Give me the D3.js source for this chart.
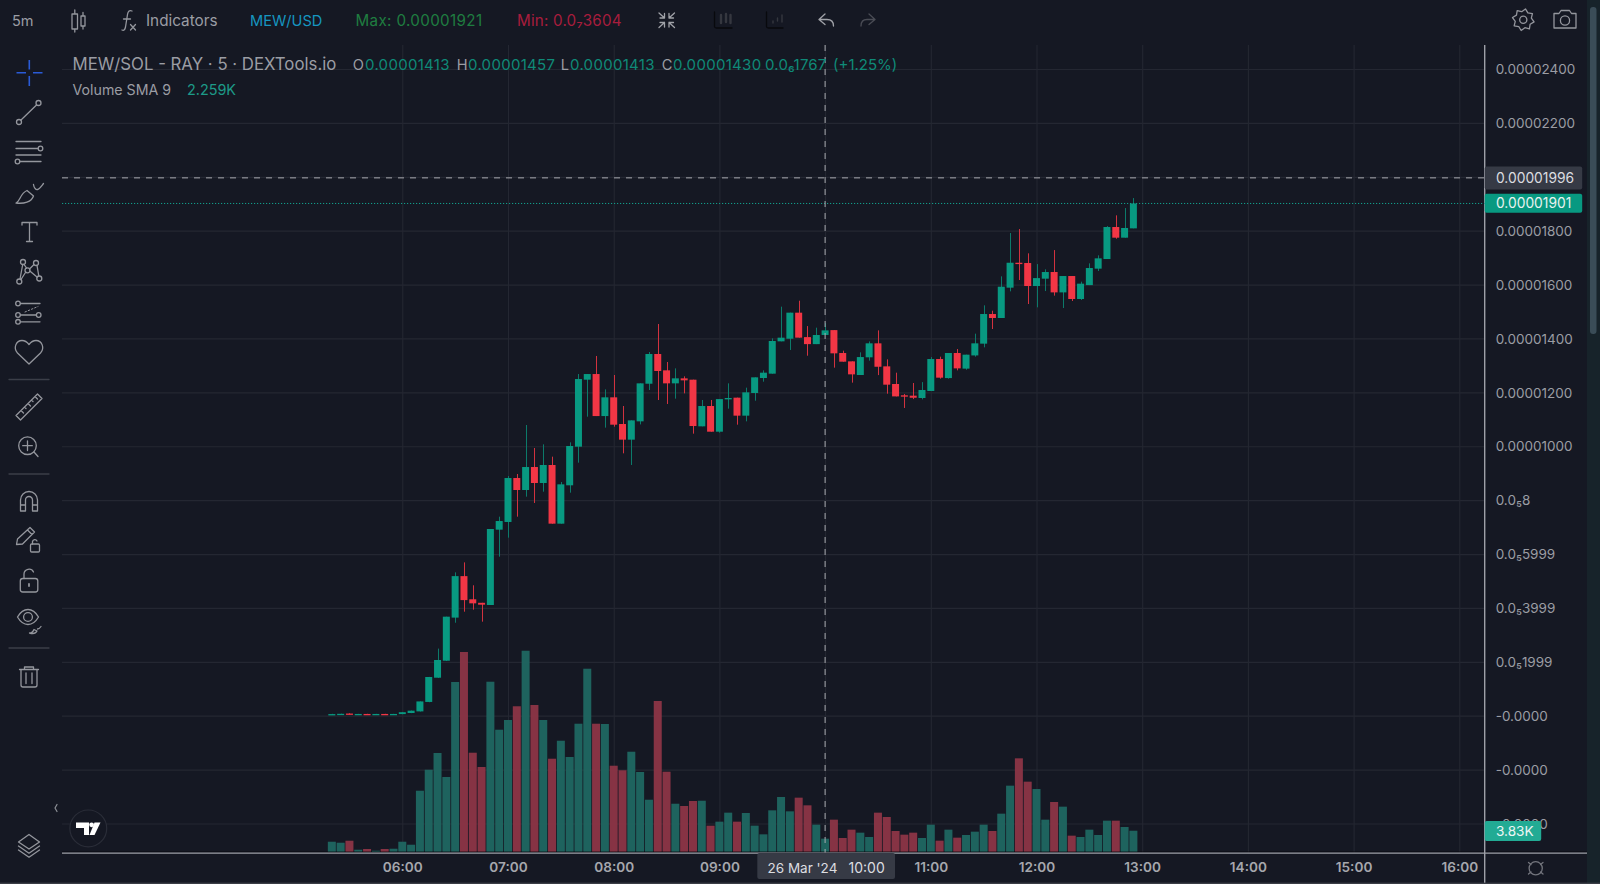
<!DOCTYPE html>
<html><head><meta charset="utf-8">
<style>
html,body{margin:0;padding:0;background:#151823;overflow:hidden}
svg{display:block}
text{font-family:Inter,"Noto Sans",sans-serif}
</style>
<script src="https://cdn.jsdelivr.net/npm/d3@7"></script>
</head><body>
<svg id="c" width="1600" height="884"></svg>
<script>
// prices in units of 1e-8, one entry per 5-minute bar from 05:20
const opens=[4,5,8,5,6.5,5,6.5,5,6,10,16,51,141,204,364,518,432,419,410.8,690.4,718.9,882.1,837.6,922.9,863.6,930.4,712.7,855,998.4,1247,1268,1112,1181.5,1082.5,1024.4,1092.4,1232,1342.3,1281.7,1233.4,1252,1247,1073.9,1149.3,1054,1174,1180.3,1113.5,1197.6,1253.2,1269.3,1389.3,1399,1495.7,1405,1379,1413,1431,1346,1315,1264.4,1330,1381.9,1296.5,1231,1189,1187.7,1179,1205,1323.7,1253,1346,1288,1337,1380.7,1490.7,1475.9,1588.5,1681,1680,1594.6,1621.9,1646.6,1571,1631.7,1546.4,1598,1659,1694.8,1813.6,1774,1808.6];
const highs=[7,7.5,9,6.8,7,6.8,7,6.8,13,19,53,144,249,367.5,532,569,484,419,692.9,738.6,889.6,897,1078.8,993.5,1007,961.3,867.3,1014.5,1268,1268,1335,1211,1264.4,1149.3,1096,1233.4,1349.7,1453.6,1312.6,1289,1259.4,1247,1171.6,1171.6,1175,1233.4,1180.3,1217.4,1255.7,1281.7,1400.4,1518,1495.7,1540,1446,1440,1457,1431,1354.6,1315,1348.5,1389,1430,1322.5,1273,1194,1234.7,1238,1331,1332.4,1346,1360.8,1339.8,1417.8,1522.9,1503,1630.5,1791.3,1806,1715.9,1676,1656.5,1728,1631.7,1631.7,1610.7,1678.8,1708.5,1817,1856.9,1884,1921];
const lows=[3.6,4.5,4.5,4.5,4.2,4.6,4.2,4.6,5.5,9.5,15.5,50,140,203,345,386,393.5,349,410.8,590.2,660.7,738.6,812.9,789.4,831.4,712.7,712.7,827.7,939,1109.7,1112,1069,1072.6,973.7,930.4,1081,1208.7,1171.6,1156.8,1176.5,1196.3,1046.7,1073.9,1054,1050.4,1139.4,1080,1092.4,1169,1239.6,1269.3,1389.3,1357.2,1403,1336,1379,1413,1291.6,1313.8,1236,1264.4,1317.6,1264,1195,1185,1142,1175,1174,1205,1250.8,1250.8,1281.7,1284,1332.4,1367,1435,1475.9,1574.8,1616.9,1527.8,1515.5,1576,1558.8,1513,1539,1542.7,1598,1650.3,1694.8,1770,1774,1808.6];
const closes=[6,7,5,6.5,4.5,6.5,4.5,6.5,13,18.7,53,143.6,206.7,367.5,518,429,417,412,692.9,722.5,882.1,837.6,922.9,863.6,930.4,712.7,858.6,1000.9,1249.5,1268,1112,1181.5,1080,1024.4,1096,1233.4,1342.3,1279.2,1233.4,1252,1244.6,1075,1149.3,1054,1175,1179,1113.5,1200,1255.7,1273,1390.6,1402.9,1495.7,1403,1379,1412.8,1430,1344.8,1313.8,1266.8,1331,1381.9,1295,1228.5,1185,1184,1180,1208.7,1323.7,1254.5,1346,1289,1339.8,1381.9,1490.7,1475.9,1592,1681,1676,1594.6,1624,1646.6,1571,1631.7,1546.4,1603.3,1661.4,1697.3,1813.6,1774,1810,1901];
// volume, thousands
const volumes=[1.85,1.67,2.03,0.41,0.54,0.23,0.54,0.59,1.85,1.31,11.03,14.81,17.82,13.5,30.6,36.0,17.87,15.3,30.65,22.01,23.76,26.23,36.23,26.46,23.76,16.79,20.03,17.1,23.09,32.99,23.09,23.04,15.53,14.71,18.05,14.4,9.41,27.18,14.45,8.69,8.28,9.18,9.23,4.73,5.46,7.08,5.46,7.02,4.74,3.18,7.5,9.9,7.32,9.78,8.4,4.92,2.4,5.82,2.52,4.02,3.48,2.7,7.08,6.3,3.78,3.12,3.48,2.52,4.92,2.04,4.02,2.58,3.06,3.66,4.92,3.78,6.9,11.94,16.86,12.66,11.34,5.82,9.0,8.16,2.94,2.7,4.02,3.06,5.64,5.64,4.5,3.83];
const firstBarMinute=320, barMinutes=5;
const hourTicks=[360,420,480,540,600,660,720,780,840,900,960];
const hourLabels=["06:00","07:00","08:00","09:00","","11:00","12:00","13:00","14:00","15:00","16:00"];
const priceTicks=[2400,2200,2000,1800,1600,1400,1200,1000,800,600,400,200,0,-200,-400];
const priceLabels=["0.00002400","0.00002200","","0.00001800","0.00001600","0.00001400","0.00001200","0.00001000","0.0₅8","0.0₅5999","0.0₅3999","0.0₅1999","-0.0000","-0.0000","-0.0000"];
const crossPrice=1996, lastPrice=1901, crossMinute=600;
const lastVolumeLabel="3.83K", crossPriceLabel="0.00001996", lastPriceLabel="0.00001901";

const BG="#151823",GRID="#242732",UP="#089981",DN="#f23645",TXT="#9b9da4",ICON="#94969d";
const L=62,R=1484.7,T=45,AX=852.5;
const x=d3.scaleLinear().domain([360,960]).range([402.3,1459.3]);
const y=d3.scaleLinear().domain([0,2400]).range([715.7,69]);
const v=d3.scaleLinear().domain([0,36.18]).range([852,651]);
const svg=d3.select("#c");
svg.append("rect").attr("width",1600).attr("height",884).attr("fill",BG);

// price grid and axis
const yAxis=svg.append("g").attr("transform",`translate(${R},0)`).call(
  d3.axisRight(y).tickValues(priceTicks).tickSize(0).tickPadding(11)
    .tickFormat((d,i)=>priceLabels[i]));
yAxis.select(".domain").remove();
yAxis.selectAll("text").attr("fill",TXT).attr("font-size",13.5).attr("dy","0.35em").style("font-family","Inter");
const yGrid=svg.append("g").attr("transform",`translate(${R},0)`).call(
  d3.axisLeft(y).tickValues(priceTicks).tickSize(R-L).tickFormat(""));
yGrid.select(".domain").remove();
yGrid.selectAll("line").attr("stroke",GRID).attr("stroke-width",1.2);

// time grid and axis
const xGrid=svg.append("g").attr("transform",`translate(0,${AX})`).call(
  d3.axisTop(x).tickValues(hourTicks).tickSize(AX-T).tickFormat(""));
xGrid.select(".domain").remove();
xGrid.selectAll("line").attr("stroke",GRID).attr("stroke-width",1.1);
const xAxis=svg.append("g").attr("transform",`translate(0,${AX})`).call(
  d3.axisBottom(x).tickValues(hourTicks).tickSize(0).tickPadding(10)
    .tickFormat((d,i)=>hourLabels[i]));
xAxis.select(".domain").remove();
xAxis.selectAll("text").attr("fill","#a5a7ad").attr("font-size",13.6).attr("font-weight",600).attr("dy","0.71em").style("font-family","Inter");

const bars=opens.map((o,i)=>({m:firstBarMinute+i*barMinutes,o,h:highs[i],l:lows[i],c:closes[i],vol:volumes[i],up:closes[i]>=o}));

// volume
svg.append("g").selectAll("rect").data(bars).join("rect")
  .attr("x",d=>x(d.m)-4).attr("width",8)
  .attr("y",d=>v(d.vol)).attr("height",d=>v(0)-v(d.vol))
  .attr("fill",d=>d.up?"#1f6661":"#8b3446").attr("fill-opacity",0.96);

// candles
svg.append("g").selectAll("line").data(bars).join("line")
  .attr("x1",d=>Math.round(x(d.m))+.5).attr("x2",d=>Math.round(x(d.m))+.5)
  .attr("y1",d=>y(d.h)).attr("y2",d=>y(d.l))
  .attr("stroke",d=>d.up?"#0c7a6a":"#d2323f").attr("stroke-width",1);
svg.append("g").selectAll("rect").data(bars).join("rect")
  .attr("x",d=>x(d.m)-3.5).attr("width",7)
  .attr("y",d=>y(Math.max(d.o,d.c))).attr("height",d=>Math.max(1.3,Math.abs(y(d.o)-y(d.c))))
  .attr("fill",d=>d.up?UP:DN);

// bottom rule and pane edges
svg.append("rect").attr("x",L).attr("y",851.6).attr("width",1587-L).attr("height",.7).attr("fill","#05060a");
svg.append("line").attr("x1",L).attr("x2",1587).attr("y1",AX+.6).attr("y2",AX+.6).attr("stroke","#9ea0a8").attr("stroke-width",1.4);
svg.append("line").attr("x1",R).attr("x2",R).attr("y1",T).attr("y2",884).attr("stroke","#9ea0a8").attr("stroke-width",1.4);

// last price + crosshair
svg.append("line").attr("x1",L).attr("x2",R).attr("y1",y(lastPrice)).attr("y2",y(lastPrice))
  .attr("stroke","#13a08e").attr("stroke-width",1).attr("stroke-dasharray","1.2 1.8");
svg.append("line").attr("x1",L).attr("x2",R).attr("y1",y(crossPrice)).attr("y2",y(crossPrice))
  .attr("stroke","#a8aab0").attr("stroke-width",1).attr("stroke-dasharray","6 6");
svg.append("line").attr("x1",x(crossMinute)).attr("x2",x(crossMinute)).attr("y1",T).attr("y2",AX)
  .attr("stroke","#a8aab0").attr("stroke-width",1).attr("stroke-dasharray","6 6");

function box(x0,y0,w,h,fill){svg.append("rect").attr("x",x0).attr("y",y0).attr("width",w).attr("height",h).attr("rx",2).attr("fill",fill);}
function label(t,px,py,fill,size,spacing){const e=svg.append("text").attr("x",px).attr("y",py).attr("fill",fill).attr("font-size",size).text(t);if(spacing)e.attr("letter-spacing",spacing);return e;}
box(R,166.5,97.5,23,"#363a45"); label(crossPriceLabel,1496,182.6,"#dcdde0",13.8);
box(R,193.7,97.5,19,UP); label(lastPriceLabel,1496,208,"#e8f2f0",13.8);
box(R,821,56.5,20,"#22ab94"); label(lastVolumeLabel,1496,836,"#eef6f5",13.6);
box(757.3,853,137.7,26,"#363a45");
label("26 Mar '24",767.5,873,"#dcdde0",13.5);
label("10:00",848.5,873,"#dcdde0",14);

// header text
label("5m",12,25.5,TXT,14.5);
label("Indicators",146,25.5,TXT,15.3);
label("MEW/USD",250,25.5,"#1696c0",14.6);
label("Max: 0.00001921",355.5,25.5,"#1f7d40",15.2,0.35);
label("Min: 0.0₇3604",517,25.5,"#a81d3d",15.2,0.2);
label("MEW/SOL - RAY · 5 · DEXTools.io",72.5,70,"#9b9da4",16.8);
const LEG="#0f8a78";
[["O",352.7,"0.00001413",365],["H",456.7,"0.00001457",468],["L",560.7,"0.00001413",570],["C",661.7,"0.00001430",673]]
 .forEach(r=>{label(r[0],r[1],69.5,TXT,14.6);label(r[2],r[3],69.5,LEG,15,0.3);});
label("0.0₆1767",765,69.5,LEG,15,0.2);
label("(+1.25%)",833,69.5,LEG,15);
label("Volume SMA 9",72.5,95,TXT,14.2);
label("2.259K",187,95,"#1d9a88",14.4);

// scrollbar strip
svg.append("rect").attr("x",1587).attr("y",0).attr("width",13).attr("height",884).attr("fill","#17232a");
svg.append("rect").attr("x",1590).attr("y",7).attr("width",6.5).attr("height",327).attr("rx",3).attr("fill","#3a4c57");
svg.append("rect").attr("x",0).attr("y",882.6).attr("width",1600).attr("height",1.4).attr("fill","#3a3d45");

// toolbar icons
const ic=svg.append("g").attr("fill","none").attr("stroke",ICON).attr("stroke-width",1.3).attr("stroke-linecap","round").attr("stroke-linejoin","round");
const p=(d,o={})=>{const e=ic.append("path").attr("d",d);for(const k in o)e.attr(k,o[k]);return e;};
const circ=(cx,cy,r)=>ic.append("circle").attr("cx",cx).attr("cy",cy).attr("r",r);
// crosshair
p("M16.5 72.7H26M33 72.7H42.5M29.3 60V69.5M29.3 76V86",{stroke:"#2a5bd7","stroke-width":1.6,"stroke-linecap":"butt"});
// trend line
circ(19,122,2.5);circ(38.5,103,2.5);p("M21 120L36.5 105");
// fib
p("M16 141.5H41M16 148.5H38M16 155H41M20 161.5H41");circ(40.5,148.5,2.3);circ(17.5,161.5,2.3);
// brush
p("M16 203C20.5 201 20 193.5 27 190.5L33.5 196C31.5 202 24 204 16 203ZM33.5 184.5C34 188 36 190 37.5 189.5C39.5 189 41.5 186 43.5 183.5");
// text tool
p("M22 225V222.5H37V225M29.5 222.5V241.5M26.5 241.5H32.5");
// pattern
circ(19.3,281.5,2.5);circ(23,262,2.5);circ(27.5,270.3,2.5);circ(36,263,2.5);circ(39.3,278.5,2.5);
p("M20 279L22.7 264.5M24 264.3L26.5 268M29.5 269L34 264.5M37 265.3L38.8 276M21 279.5L25.8 272M29.8 271L37 277");
// forecast
circ(18,303.5,2.3);circ(18,315,2.3);circ(18,321.8,2.3);circ(38.7,315,2.3);
p("M20.5 303.5H40M20.5 315H36.3M20.5 321.8H40");p("M25 312L38 306.5",{"stroke-dasharray":"1.5 2","stroke-width":1});
// heart
p("M29 364L17.5 353C13 348 16 340.5 22 340.5C25.5 340.5 27.5 342.5 29 344.5C30.5 342.5 32.5 340.5 36 340.5C42 340.5 45 348 40.5 353Z");
// separators
[379.5,474,648].forEach(sy=>ic.append("line").attr("x1",9).attr("x2",49).attr("y1",sy).attr("y2",sy).attr("stroke","#3b3e48"));
// ruler
p("M16 415.5L37.5 394L42 398.5L20.5 420ZM21 410.5L23.5 413M24.5 407L26 408.5M28 403.5L30.5 406M31.5 400L33 401.5M35 396.5L37.5 399");
// zoom
circ(27.5,445.7,8.8);p("M27.5 441V450.5M22.7 445.7H32.3M34 452L38 456.5");
// magnet
p("M20.5 511V500A8.5 8.5 0 0 1 37.5 500V511H32.5V500A3.5 3.5 0 0 0 25.5 500V511ZM20.5 505H25.5M32.5 505H37.5");
// pencil + small lock
p("M16.5 544.5L17.5 539L30 527.5L34.5 532L22.5 544L16.5 544.5ZM27.5 530L32 534.5");
ic.append("rect").attr("x",30.5).attr("y",544).attr("width",9).attr("height",8).attr("rx",1.2);
p("M32.5 544V541.5A2.4 2.4 0 0 1 37 541");
// unlocked lock
ic.append("rect").attr("x",20.3).attr("y",578.5).attr("width",17.5).attr("height",13.5).attr("rx",2.5);
p("M24 578.5V574A5 5 0 0 1 33.5 572");p("M29 584V586",{"stroke-width":1.8});
// eye + mini brush
p("M17.5 617C21 611 25 609.5 28 609.5C31 609.5 35 611 38.5 617C35 623 31 624.5 28 624.5C25 624.5 21 623 17.5 617Z");circ(28,617,4.4);
p("M29.5 633C31.5 633 33 632 34 629.5L37 631C36 633 33 634 29.5 633ZM37.5 629C38.5 629 40 628 41 626.5");
// trash
p("M19.5 669.5H38.5M24.5 669V667H33.5V669M21 670V685C21 686.5 22 687 23 687H35C36 687 37 686.5 37 685V670M26 673V683.5M32 673V683.5");
// layers
p("M29 834.5L39.5 842L29 849L18.5 842ZM18.5 846L29 853.2L39.5 846M18.5 850L29 857.2L39.5 850");
// collapse chevron
p("M57 804.5L55 808L57 811.5",{stroke:"#8d9097","stroke-width":1.2});
// top bar: candle icon
p("M72 14V29H77.5V14ZM74.8 10V14M74.8 29V32M81 16V26H85V16ZM83 12.5V16M83 26V29");
// fx
p("M132 11C129 10 128 11.5 127.5 14.5L125.5 27C125 29.5 124 31 122 30M123.5 19H130.5M130.5 24.5L135.5 30M135.5 24.5L130.5 30");
// compress arrows
p("M659 13L664.5 18M664.5 13.5V18H660M674.5 13L669 18M669 13.5V18H673.5M659 27.5L664.5 22.5M664.5 27V22.5H660M674.5 27.5L669 22.5M669 27V22.5H673.5",{stroke:"#a0a2a8"});
// chart-type boxes
p("M714.5 12V26.5C714.5 27.5 715.5 28 716.5 28H732",{stroke:"#08090d"});
p("M721 15V23M726 14V22M730.5 15V23",{stroke:"#35373f","stroke-width":2.4});
p("M766.5 12V26.5C766.5 27.5 767.5 28 768.5 28H783",{stroke:"#08090d"});
p("M773 21V23M777.5 18V21M782 15V22",{stroke:"#35373f","stroke-width":1.4});
// undo / redo
p("M819 19.5L825 14M819 19.5L825 24.5M819.5 19.5H827C831 19.5 833.5 22 833.5 26",{stroke:"#a0a2a8"});
p("M875 19.5L869 14M875 19.5L869 24.5M874.5 19.5H867C863 19.5 861 22 861 26",{stroke:"#4a4c55"});
// gear
const gearPts=d3.range(16).map(i=>{const a=i/16*2*Math.PI+Math.PI/16,r=(i%2?8.2:11);return [1523.3+r*Math.cos(a),19.7+r*Math.sin(a)];});
p(d3.line().curve(d3.curveLinearClosed)(gearPts));circ(1523.3,19.7,3.6);
// camera
p("M1554 13.5H1559L1561 10.5H1569.5L1571.5 13.5H1576V28H1554Z");circ(1565,20.5,4.6);
// bottom-right settings glyph
circ(1535.7,868.3,6.6).attr("stroke","#73757d");
p("M1528.5 862.5L1531 864.5M1543 862.5L1540.5 864.5M1528.5 874L1531 872M1543 874L1540.5 872",{stroke:"#73757d"});

// TradingView badge
svg.append("circle").attr("cx",88.3).attr("cy",828.4).attr("r",18.4).attr("fill",BG).attr("stroke","#2a2d38").attr("stroke-width",1.2);
const tv=svg.append("g").attr("fill","#fff");
tv.append("path").attr("d","M76 822.5H89V835H84V828H76Z");
tv.append("circle").attr("cx",91.6).attr("cy",824.8).attr("r",2.4);
tv.append("path").attr("d","M94.5 822.5H100.5L94.5 835H89.5Z");
</script>
</body></html>
